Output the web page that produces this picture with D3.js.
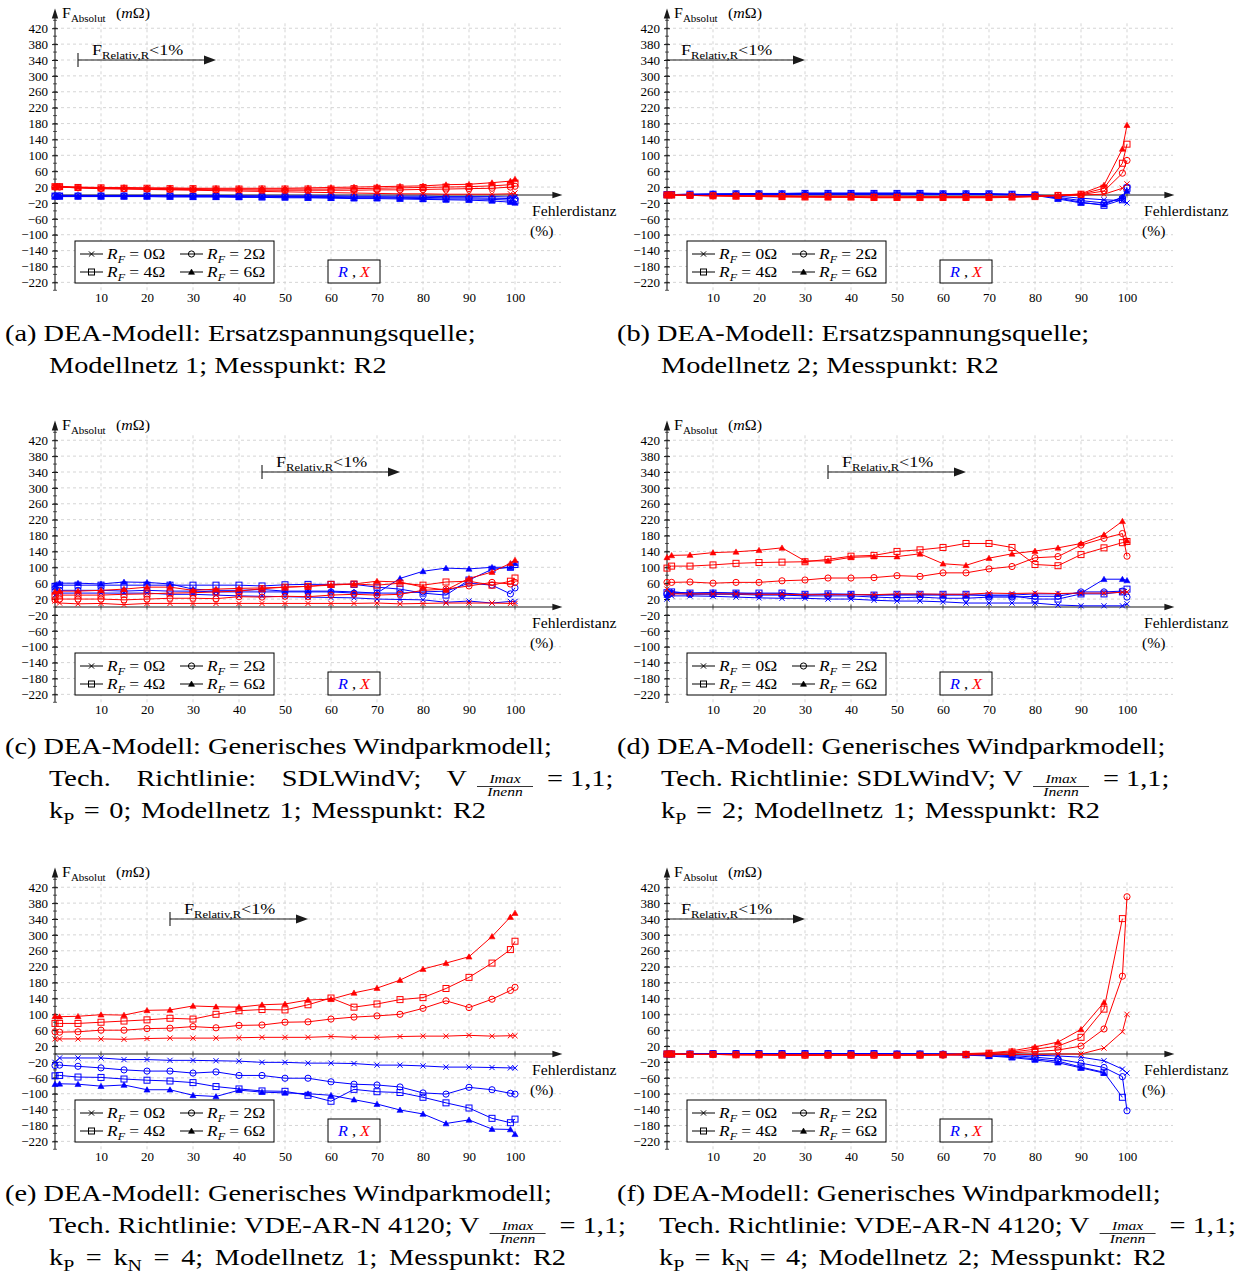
<!DOCTYPE html>
<html><head><meta charset="utf-8">
<script src="https://cdn.jsdelivr.net/npm/d3@7"></script>
<style>
body{margin:0;background:#fff}
svg text{font-family:"Liberation Serif","Times New Roman",serif;fill:#000}
</style>
</head><body>
<svg id="chart" width="1252" height="1276"></svg>
<script>
// Fault distance positions (% of line length)
const xs = [0,1,5,10,15,20,25,30,35,40,45,50,55,60,65,70,75,80,85,90,95,99,100];
const rfValues = ["0","2","4","6"];
const markerTypes = ["cross","circle","square","triangle"];
const yTicks = [-220,-180,-140,-100,-60,-20,20,60,100,140,180,220,260,300,340,380,420];
const xTicks = [10,20,30,40,50,60,70,80,90,100];

// (a) Ersatzspannungsquelle, Modellnetz 1
const aR0 = [-1,-1,-1,-1,-1,-1,-1,-1,-1,-2,-2,-2,-2,-2,-3,-3,-3,-3,-4,-4,-4,-5,-5];
const aR2 = [-2,-2,-2,-2,-2,-2,-2,-2,-3,-3,-3,-4,-4,-4,-5,-5,-6,-6,-7,-7,-8,-9,-10];
const aR4 = [-3,-3,-3,-3,-3,-3,-3,-4,-4,-4,-5,-5,-6,-6,-7,-7,-8,-9,-10,-10,-11,-13,-15];
const aR6 = [-4,-4,-4,-4,-4,-4,-5,-5,-5,-6,-6,-7,-7,-8,-9,-9,-10,-11,-12,-13,-15,-18,-20];
const aX0 = [20,20,18,16,15,14,13,12,11,10,9,8,7,6,5,4,3,3,2,2,2,3,5];
const aX2 = [20,20,18,16,16,15,14,14,13,13,12,12,12,12,12,13,13,14,15,16,17,20,22];
const aX4 = [21,21,19,18,17,17,16,16,15,15,15,15,15,15,16,17,18,19,20,21,23,26,30];
const aX6 = [22,22,20,19,19,18,18,17,17,17,17,17,18,19,20,21,22,23,26,27,31,35,40];

// (b) Ersatzspannungsquelle, Modellnetz 2
const bR0 = [0,0,1,1,1,1,1,1,1,1,1,1,1,1,1,1,0,0,-3,-8,-12,-14,-20];
const bR2 = [1,1,1,2,2,2,2,2,3,3,3,3,3,2,2,2,1,0,-6,-14,-20,-8,20];
const bR4 = [1,1,2,2,3,3,3,4,4,4,4,4,4,3,3,3,2,0,-8,-18,-26,-12,17];
const bR6 = [1,1,2,3,3,4,4,5,5,5,5,5,5,4,4,3,2,-1,-10,-20,-24,-5,10];
const bX0 = [0,0,-1,-1,-2,-2,-2,-3,-3,-3,-3,-3,-4,-4,-4,-4,-3,-3,-2,0,2,17,28];
const bX2 = [0,0,-1,-2,-2,-3,-3,-4,-4,-4,-5,-5,-5,-5,-5,-5,-4,-3,-1,1,10,55,87];
const bX4 = [0,0,-1,-2,-3,-3,-4,-5,-5,-5,-6,-6,-6,-6,-6,-6,-5,-4,-1,2,17,80,128];
const bX6 = [0,0,-1,-2,-3,-4,-5,-5,-6,-6,-7,-7,-7,-7,-7,-7,-6,-4,-1,3,25,116,176];

// (c) Generisches Windparkmodell, SDLWindV, kP = 0
const cR0 = [30,35,35,35,35,35,32,32,30,28,27,26,25,24,23,20,19,18,12,15,10,14,14];
const cR2 = [40,42,42,42,40,42,40,40,38,38,38,38,38,38,35,35,35,38,40,60,55,33,48];
const cR4 = [52,55,55,55,55,55,55,55,55,55,53,56,57,57,57,50,45,35,30,68,95,100,107];
const cR6 = [55,60,60,58,63,62,58,45,42,42,44,40,40,40,38,35,72,90,98,96,100,100,110];
const cX0 = [15,10,8,9,6,9,9,9,9,9,9,9,9,9,9,10,8,9,10,10,10,9,9];
const cX2 = [18,20,20,20,18,20,22,22,21,26,25,27,26,30,32,30,32,42,45,53,62,58,62];
const cX4 = [28,30,30,30,32,33,35,36,38,40,46,50,52,57,58,55,60,55,63,65,55,65,73];
const cX6 = [38,40,40,42,45,50,50,42,45,47,48,50,52,55,58,65,63,50,43,72,88,110,118];

// (d) Generisches Windparkmodell, SDLWindV, kP = 2
const dR0 = [20,28,28,27,25,23,22,22,20,20,17,15,15,13,10,10,10,10,5,3,3,3,8];
const dR2 = [33,35,32,32,32,30,30,28,28,28,25,23,25,22,22,25,25,27,27,38,38,40,25];
const dR4 = [36,38,35,35,35,35,35,32,33,32,30,32,32,32,32,28,28,20,20,33,33,38,45];
const dR6 = [30,38,35,37,35,33,33,30,32,32,30,30,30,30,30,30,30,33,33,35,70,70,67];
const dX0 = [45,33,33,33,33,32,32,31,31,31,31,33,33,32,32,35,34,35,34,35,35,37,38];
const dX2 = [62,62,63,60,62,62,66,68,73,73,74,79,77,86,86,96,102,124,127,156,173,185,128];
const dX4 = [98,103,103,106,110,112,113,114,120,128,130,140,144,150,160,160,150,107,104,132,149,162,165];
const dX6 = [125,130,131,137,139,143,149,116,116,125,127,127,134,109,105,123,134,141,149,160,182,216,167];

// (e) Generisches Windparkmodell, VDE-AR-N 4120, Modellnetz 1
const eR0 = [-21,-10,-10,-10,-14,-14,-16,-16,-17,-18,-21,-21,-23,-23,-24,-28,-28,-30,-33,-33,-34,-35,-35];
const eR2 = [-29,-28,-31,-35,-40,-43,-43,-48,-45,-54,-54,-61,-61,-70,-76,-78,-83,-98,-101,-84,-90,-99,-101];
const eR4 = [-55,-54,-58,-59,-63,-66,-68,-72,-82,-88,-93,-94,-104,-119,-89,-95,-97,-109,-123,-136,-162,-173,-164];
const eR6 = [-76,-75,-76,-81,-78,-90,-90,-104,-107,-91,-96,-98,-100,-104,-115,-126,-141,-151,-175,-166,-189,-190,-202];
const eX0 = [38,38,38,38,37,39,40,40,40,41,42,42,42,44,42,42,44,45,45,47,45,46,46];
const eX2 = [56,55,56,60,60,64,65,69,66,72,73,80,81,88,93,96,100,115,134,117,138,160,168];
const eX4 = [77,77,77,80,83,86,90,88,100,109,112,111,124,141,118,126,137,142,165,193,229,263,284];
const eX6 = [95,94,95,99,98,110,111,121,119,118,124,126,136,138,154,166,186,214,229,245,296,345,355];

// (f) Generisches Windparkmodell, VDE-AR-N 4120, Modellnetz 2
const fR0 = [0,0,0,1,1,1,1,1,1,1,1,1,0,0,0,-1,-2,-3,-5,-8,-17,-38,-48];
const fR2 = [0,0,0,1,1,1,1,1,1,1,1,0,0,0,-1,-2,-4,-8,-13,-23,-34,-57,-143];
const fR4 = [0,0,0,1,1,1,1,1,1,1,1,0,0,-1,-2,-4,-7,-12,-18,-33,-46,-109,null];
const fR6 = [0,0,0,1,1,1,1,1,1,1,0,0,-1,-1,-3,-5,-9,-15,-22,-35,-48,null,null];
const fX0 = [0,0,-1,-1,-1,-2,-2,-2,-2,-2,-2,-2,-2,-2,-2,-2,-1,-1,0,0,15,56,100];
const fX2 = [0,0,-1,-1,-2,-2,-2,-3,-3,-3,-3,-3,-3,-3,-2,1,3,6,10,20,63,196,396];
const fX4 = [0,0,-1,-1,-2,-2,-3,-3,-3,-3,-3,-3,-3,-2,-1,2,5,12,20,42,113,341,null];
const fX6 = [0,0,-1,-1,-2,-2,-3,-3,-3,-3,-3,-3,-2,-1,1,3,8,18,30,62,130,null,null];

// Range where the relative error stays below 1 %
const arrowRanges = {a:[5,35], b:[0,30], c:[45,75], d:[35,65], e:[25,55], f:[0,30]};

const FRAC = {frac:["Imax","Inenn"]};
// caption lines; "end" = right edge a justified line is spread to
const captions = {
  a: [{segs:[{t:"(a) DEA-Modell: Ersatzspannungsquelle;"}]}, {segs:[{t:"Modellnetz 1; Messpunkt: R2"}]}],
  b: [{segs:[{t:"(b) DEA-Modell: Ersatzspannungsquelle;"}]}, {segs:[{t:"Modellnetz 2; Messpunkt: R2"}]}],
  c: [{segs:[{t:"(c) DEA-Modell: Generisches Windparkmodell;"}]},
      {segs:[{t:"Tech. Richtlinie: SDLWindV; V"}, FRAC, {t:"= 1,1;"}], end:467},
      {segs:[{t:"k"},{t:"P",sub:true},{t:" = 0; Modellnetz 1; Messpunkt: R2"}], end:486}],
  d: [{segs:[{t:"(d) DEA-Modell: Generisches Windparkmodell;"}]},
      {segs:[{t:"Tech. Richtlinie: SDLWindV; V"}, FRAC, {t:"= 1,1;"}]},
      {segs:[{t:"k"},{t:"P",sub:true},{t:" = 2; Modellnetz 1; Messpunkt: R2"}], end:1100}],
  e: [{segs:[{t:"(e) DEA-Modell: Generisches Windparkmodell;"}]},
      {segs:[{t:"Tech. Richtlinie: VDE-AR-N 4120; V"}, FRAC, {t:"= 1,1;"}]},
      {segs:[{t:"k"},{t:"P",sub:true},{t:" = k"},{t:"N",sub:true},{t:" = 4; Modellnetz 1; Messpunkt: R2"}], end:566}],
  f: [{segs:[{t:"(f) DEA-Modell: Generisches Windparkmodell;"}]},
      {segs:[{t:"Tech. Richtlinie: VDE-AR-N 4120; V"}, FRAC, {t:"= 1,1;"}]},
      {segs:[{t:"k"},{t:"P",sub:true},{t:" = k"},{t:"N",sub:true},{t:" = 4; Modellnetz 2; Messpunkt: R2"}], end:1166}]
};

const panels = [
  {id:"a", col:0, row:0, R:[aR0,aR2,aR4,aR6], X:[aX0,aX2,aX4,aX6]},
  {id:"b", col:1, row:0, R:[bR0,bR2,bR4,bR6], X:[bX0,bX2,bX4,bX6]},
  {id:"c", col:0, row:1, R:[cR0,cR2,cR4,cR6], X:[cX0,cX2,cX4,cX6]},
  {id:"d", col:1, row:1, R:[dR0,dR2,dR4,dR6], X:[dX0,dX2,dX4,dX6]},
  {id:"e", col:0, row:2, R:[eR0,eR2,eR4,eR6], X:[eX0,eX2,eX4,eX6]},
  {id:"f", col:1, row:2, R:[fR0,fR2,fR4,fR6], X:[fX0,fX2,fX4,fX6]}
];

const BLUE = "#0000ff", RED = "#ff0000", AXIS = "#1a1a1a", GRID = "#d0d0d0";
const SERIF = "'Liberation Serif','Times New Roman',serif";
const colX = [55, 667], rowY = [195, 607, 1054];
const capX = [5, 617], capY = [341, 754, 1201];
const SX = 1.26; // horizontal stretch for running text

const svg = d3.select("#chart");

function fmt(v){ return v < 0 ? "\u2212" + Math.abs(v) : String(v); }

// rich text: segments with optional subscripts / italics
function rich(g, x, y, size, segs, sx, anchor){
  const t = g.append("text")
    .attr("transform", `translate(${x},${y}) scale(${sx||1},1)`)
    .attr("font-family", SERIF)
    .style("font-size", size + "px");
  if (anchor) t.attr("text-anchor", anchor);
  let shift = 0;
  segs.forEach(s => {
    const sp = t.append("tspan").text(s.t);
    const target = s.sub ? size * 0.28 : 0;
    if (target !== shift) { sp.attr("dy", target - shift); shift = target; }
    if (s.sub) sp.style("font-size", (s.size || size * 0.7) + "px");
    if (s.it) sp.style("font-style", "italic");
    if (s.fill) sp.style("fill", s.fill);
  });
  return t;
}

// spread the inter-word spaces of a caption line so it ends at xEnd
function justify(t, x0, xEnd, segs){
  if (xEnd == null) return;
  const spaces = segs.map(s => s.t).join("").split(" ").length - 1;
  const w = t.node().getComputedTextLength() * SX;
  if (spaces > 0) t.style("word-spacing", ((xEnd - x0 - w) / spaces / SX) + "px");
}

function drawMarker(g, type, cx, cy, color){
  if (type === "cross"){
    const s = 2.6;
    g.append("path").attr("d", `M${cx-s},${cy-s}L${cx+s},${cy+s}M${cx-s},${cy+s}L${cx+s},${cy-s}`)
      .attr("stroke", color).attr("stroke-width", 1).attr("fill","none");
  } else if (type === "circle"){
    g.append("circle").attr("cx",cx).attr("cy",cy).attr("r",3.1)
      .attr("stroke",color).attr("stroke-width",1).attr("fill","none");
  } else if (type === "square"){
    g.append("rect").attr("x",cx-3).attr("y",cy-3).attr("width",6).attr("height",6)
      .attr("stroke",color).attr("stroke-width",1).attr("fill","none");
  } else {
    g.append("path").attr("d", d3.symbol(d3.symbolTriangle, 16)())
      .attr("transform", `translate(${cx},${cy+0.6})`)
      .attr("fill", color).attr("stroke", color).attr("stroke-width", 0.6);
  }
}

panels.forEach(p => {
  const ox = colX[p.col], oy = rowY[p.row];
  const x = d3.scaleLinear().domain([0,110]).range([ox, ox + 506]);
  const y = d3.scaleLinear().domain([-240,440]).range([oy + 95.3, oy - 174.7]);
  const g = svg.append("g");

  // grid
  g.append("g").selectAll("line").data(yTicks).join("line")
    .attr("x1", x(0)).attr("x2", x(110)).attr("y1", d => y(d)).attr("y2", d => y(d))
    .attr("stroke", GRID).attr("stroke-width", 0.9).attr("stroke-dasharray", "3,3");
  g.append("g").selectAll("line").data(xTicks).join("line")
    .attr("y1", y(-240)).attr("y2", y(440)).attr("x1", d => x(d)).attr("x2", d => x(d))
    .attr("stroke", GRID).attr("stroke-width", 0.9).attr("stroke-dasharray", "3,3");

  // y axis with ticks crossing the line
  const yMinor = d3.range(-240, 441, 20);
  g.append("g").selectAll("line").data(yMinor).join("line")
    .attr("x1", x(0) - 2).attr("x2", x(0) + 2).attr("y1", d => y(d)).attr("y2", d => y(d))
    .attr("stroke", AXIS).attr("stroke-width", 0.7);
  const yAx = g.append("g").attr("transform", `translate(${x(0)},0)`)
    .call(d3.axisLeft(y).tickValues(yTicks).tickFormat(fmt).tickSize(3).tickPadding(4))
    .attr("font-family", SERIF).attr("font-size", 13);
  yAx.select(".domain").remove();
  yAx.selectAll(".tick line").attr("stroke", AXIS).attr("x2", 3).attr("x1", -3);
  yAx.selectAll(".tick text").attr("fill","#000");

  // x tick marks on the zero line, labels along the bottom
  g.append("g").selectAll("line").data(xTicks).join("line")
    .attr("x1", d => x(d)).attr("x2", d => x(d)).attr("y1", y(0) - 2.5).attr("y2", y(0) + 2.5)
    .attr("stroke", AXIS).attr("stroke-width", 0.7);
  const xAx = g.append("g").attr("transform", `translate(0,${oy + 92})`)
    .call(d3.axisBottom(x).tickValues(xTicks).tickSize(0).tickPadding(6))
    .attr("font-family", SERIF).attr("font-size", 13);
  xAx.select(".domain").remove();
  xAx.selectAll(".tick text").attr("fill","#000");

  // axis lines with arrowheads
  g.append("line").attr("x1", x(0)).attr("x2", x(0)).attr("y1", y(-240)).attr("y2", y(462))
    .attr("stroke", AXIS).attr("stroke-width", 1.1);
  g.append("path").attr("d", `M${x(0)},${y(470)}l-3.2,10l6.4,0z`).attr("fill", AXIS);
  g.append("line").attr("x1", x(0)).attr("x2", x(109)).attr("y1", y(0)).attr("y2", y(0))
    .attr("stroke", AXIS).attr("stroke-width", 1.1);
  g.append("path").attr("d", `M${x(110.3)},${y(0)}l-10,-3.2l0,6.4z`).attr("fill", AXIS);

  // axis labels
  rich(g, x(0) + 7, oy - 177, 14.5, [{t:"F"},{t:"Absolut",sub:true,size:10}], 1.1);
  rich(g, x(0) + 61, oy - 177, 14.5, [{t:"("},{t:"m",it:true},{t:"\u03a9)"}], 1.1);
  rich(g, x(0) + 477, oy + 21, 14, [{t:"Fehlerdistanz"}], 1.12);
  rich(g, x(0) + 475, oy + 41, 14, [{t:"(%)"}], 1.12);

  // data: R (blue) first, X (red) on top
  const line = d3.line().defined(d => d[1] !== null).x(d => x(d[0])).y(d => y(d[1]));
  [[p.R, BLUE], [p.X, RED]].forEach(([set, color]) => {
    set.forEach((vals, i) => {
      const pts = xs.map((xv, k) => [xv, vals[k]]);
      g.append("path").datum(pts).attr("d", line)
        .attr("fill","none").attr("stroke", color).attr("stroke-width", 1);
      const mg = g.append("g");
      pts.filter(d => d[1] !== null).forEach(d => drawMarker(mg, markerTypes[i], x(d[0]), y(d[1]), color));
    });
  });

  // relative-error annotation arrow
  const [a0, a1] = arrowRanges[p.id];
  const ay = y(340);
  g.append("line").attr("x1", x(a0)).attr("x2", x(a1) - 8).attr("y1", ay).attr("y2", ay)
    .attr("stroke", AXIS).attr("stroke-width", 1.1);
  g.append("path").attr("d", `M${x(a1)},${ay}l-12,-4.5l0,9z`).attr("fill", AXIS);
  if (a0 > 0) g.append("line").attr("x1", x(a0)).attr("x2", x(a0)).attr("y1", ay - 7).attr("y2", ay + 7)
    .attr("stroke", AXIS).attr("stroke-width", 1.1);
  rich(g, x(a0) + 14, ay - 5, 15, [{t:"F"},{t:"Relativ,R",sub:true,size:10.5},{t:"<1%"}], 1.2);

  // legend
  const lg = g.append("g");
  lg.append("rect").attr("x", ox + 20).attr("y", oy + 46).attr("width", 199).attr("height", 42)
    .attr("fill","#fff").attr("stroke","#000").attr("stroke-width",1);
  rfValues.forEach((rf, i) => {
    const lx = ox + 25 + (i % 2) * 100, ly = oy + 59 + Math.floor(i / 2) * 18;
    lg.append("line").attr("x1", lx).attr("x2", lx + 23).attr("y1", ly).attr("y2", ly)
      .attr("stroke","#000").attr("stroke-width",1);
    drawMarker(lg, markerTypes[i], lx + 11.5, ly, "#000");
    rich(lg, lx + 27, ly + 5, 14.5, [{t:"R",it:true},{t:"F",it:true,sub:true,size:10},{t:" = " + rf + "\u03a9"}], 1.2);
  });
  lg.append("rect").attr("x", ox + 273).attr("y", oy + 65).attr("width", 52).attr("height", 23)
    .attr("fill","#fff").attr("stroke","#000").attr("stroke-width",1);
  rich(lg, ox + 299, oy + 82, 15.5, [{t:"R",it:true,fill:BLUE},{t:" , "},{t:"X",it:true,fill:RED}], 1.05, "middle");

  // caption
  const cg = svg.append("g");
  const cx0 = capX[p.col], cy0 = capY[p.row];
  const contX = cx0 + (p.id === "f" ? 42 : 44);
  const FS = 22.5;
  captions[p.id].forEach((ln, li) => {
    const segs = ln.segs;
    const bx = li === 0 ? cx0 : contX, by = cy0 + li * 32;
    const fi = segs.findIndex(s => s.frac);
    if (fi < 0) {
      const t = rich(cg, bx, by, FS, segs, SX);
      justify(t, bx, ln.end, segs);
      return;
    }
    const before = segs.slice(0, fi);
    const t1 = rich(cg, bx, by, FS, before, SX);
    justify(t1, bx, ln.end, before);
    const w1 = ln.end != null ? ln.end - bx : t1.node().getComputedTextLength() * SX;
    const [num, den] = segs[fi].frac;
    const fx = bx + w1 + 10;
    const fw = 56;
    rich(cg, fx + fw / 2, by - 3, 13, [{t:num,it:true}], 1.2, "middle");
    cg.append("line").attr("x1", fx).attr("x2", fx + fw).attr("y1", by + 0.5).attr("y2", by + 0.5)
      .attr("stroke","#000").attr("stroke-width",0.8);
    rich(cg, fx + fw / 2, by + 10, 13, [{t:den,it:true}], 1.2, "middle");
    rich(cg, fx + fw + 14, by, FS, segs.slice(fi + 1), SX);
  });
});
</script>
</body></html>
